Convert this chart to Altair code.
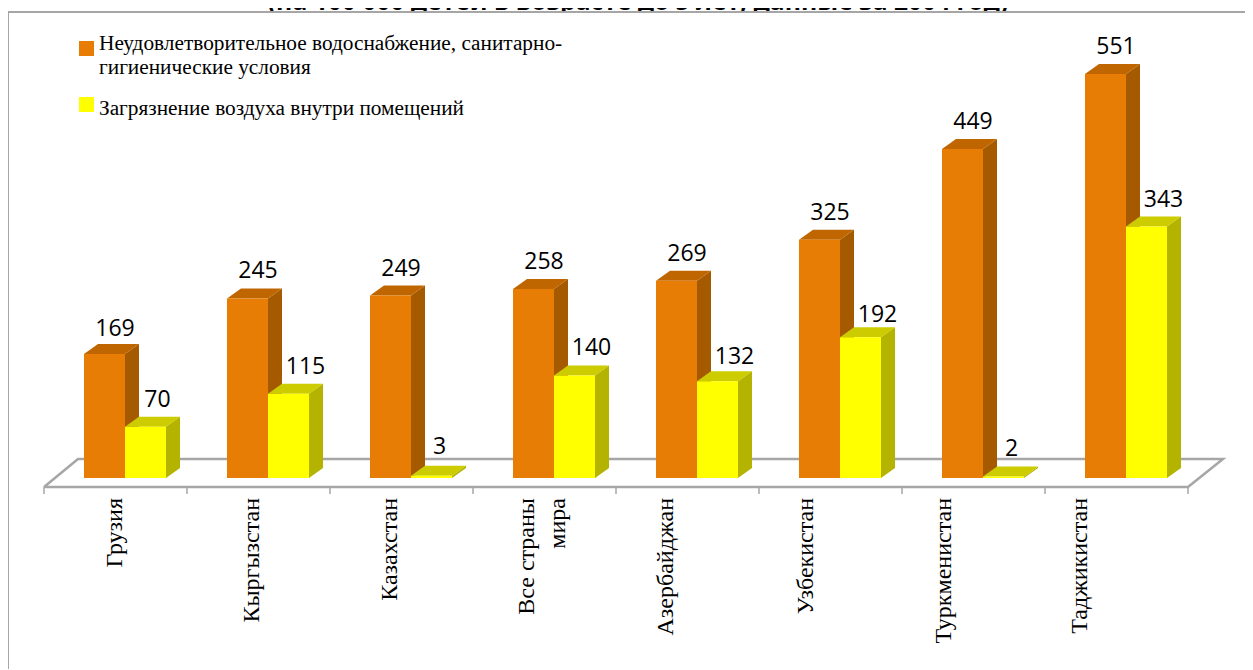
import altair as alt
import pandas as pd

categories = ["Грузия", "Кыргызстан", "Казахстан", "Все страны", "Азербайджан", "Узбекистан", "Туркменистан", "Таджикистан"]
water = [169, 245, 249, 258, 269, 325, 449, 551]
air = [70, 115, 3, 140, 132, 192, 2, 343]
label_pos = [-0.07, 0.89, 1.85, 2.81, 3.785, 4.76, 5.73, 6.68]
extra_label = "мира"
extra_pos = 3.028
water_name = ["Неудовлетворительное водоснабжение, санитарно-", "гигиенические условия"]
air_name = "Загрязнение воздуха внутри помещений"
title_text = "(на 100 000 детей в возрасте до 5 лет, данные за 2004 год)"
# offsets of the value labels, in pixels above the bar tops
water_gap = [25, 27, 26, 27, 27, 27, 27, 27]
air_gap = [27, 27, 29, 27, 24, 22, 28, 27]

W, H = 1237, 661
PXU = 143.0          # px per category
PXV = 0.733          # px per value unit
X0, Y0 = 117.0, 470.0
BAR = 41 / PXU
DX = 14 / PXU
DY = 10 / PXV
GRAY = "#A6A6A6"
FRAME_Y = 4

xs = alt.Scale(domain=[-X0 / PXU, (W - X0) / PXU], nice=False, zero=False)
ys = alt.Scale(domain=[-(H - Y0) / PXV, Y0 / PXV], nice=False, zero=False)
X = lambda f="x": alt.X(f"{f}:Q", scale=xs, axis=None)
Y = lambda f="y": alt.Y(f"{f}:Q", scale=ys, axis=None)


def faces(values, left):
    side, top, front = [], [], []
    for i, v in enumerate(values):
        x0 = i + left
        x1 = x0 + BAR
        side += [dict(id=i, x=x1, y=v, y2=0), dict(id=i, x=x1 + DX, y=v + DY, y2=DY)]
        top += [dict(id=i, x=x0, y=v, y2=v), dict(id=i, x=x0 + DX, y=v + DY, y2=v),
                dict(id=i, x=x1, y=v + DY, y2=v), dict(id=i, x=x1 + DX, y=v + DY, y2=v + DY)]
        front.append(dict(x=x0, x2=x1, y=v, y2=0))
    return pd.DataFrame(side), pd.DataFrame(top), pd.DataFrame(front)


def bars(values, left, cf, ct, cs):
    side, top, front = faces(values, left)
    return [
        alt.Chart(side).mark_area(color=cs, opacity=1).encode(x=X(), y=Y(), y2="y2:Q", detail="id:N"),
        alt.Chart(top).mark_area(color=ct, opacity=1).encode(x=X(), y=Y(), y2="y2:Q", detail="id:N"),
        alt.Chart(front).mark_rect(color=cf).encode(x=X(), x2="x2:Q", y=Y(), y2="y2:Q"),
    ]


# floor and axis
FL, BL = -81 / PXU, -47 / PXU
FR, BR = 7 + 62 / PXU, 7 + 97 / PXU
YF, YB = -9 / PXV, 19 / PXV
floor = pd.DataFrame([
    dict(x=FL, y=YF, o=0), dict(x=BL, y=YB, o=1), dict(x=BR, y=YB, o=2), dict(x=FR, y=YF, o=3), dict(x=FL, y=YF, o=4)
])
floor_l = alt.Chart(floor).mark_line(color=GRAY, strokeWidth=2.5).encode(x=X(), y=Y(), order="o:Q")
ticks = pd.DataFrame([dict(x=FL + k, y=YF, y2=YF - 7 / PXV) for k in range(9)])
ticks_l = alt.Chart(ticks).mark_rule(color=GRAY, strokeWidth=1.5).encode(x=X(), y=Y(), y2="y2:Q")

# value labels
vl = pd.DataFrame(
    [dict(x=i - BAR / 2 + 10.5 / PXU, y=v + g / PXV, t=str(v)) for i, (v, g) in enumerate(zip(water, water_gap))]
    + [dict(x=i + BAR / 2 + (17 if v >= 100 else 12 if v >= 10 else 8) / PXU, y=v + g / PXV, t=str(v))
       for i, (v, g) in enumerate(zip(air, air_gap))]
)
vl_l = alt.Chart(vl).mark_text(font="Open Sans", fontSize=23, color="#000", baseline="middle").encode(x=X(), y=Y(), text="t:N")

# category labels
cl = pd.DataFrame([dict(x=p, t=t) for p, t in zip(label_pos, categories)] + [dict(x=extra_pos, t=extra_label)])
cl["y"] = -20 / PXV
cl_l = alt.Chart(cl).mark_text(font="Liberation Serif", fontSize=24, color="#000", angle=270, align="right", baseline="middle").encode(x=X(), y=Y(), text="t:N")

# legend
leg_sw = pd.DataFrame([dict(c="#E87D05", px=78.5, py=40.5), dict(c="#FFFF00", px=78.5, py=96.5)])
leg_sq = alt.Chart(leg_sw).mark_square(size=225, opacity=1).encode(
    x=alt.X("px:Q", scale=None), y=alt.Y("py:Q", scale=None), color=alt.Color("c:N", scale=None))
leg_tx = pd.DataFrame([dict(t=water_name[0], py=35.6), dict(t=water_name[1], py=59.6), dict(t=air_name, py=100.6)])
leg_t = alt.Chart(leg_tx).mark_text(font="Liberation Serif", fontSize=21.3, color="#000", align="left", baseline="middle").encode(
    x=alt.value(91), y=alt.Y("py:Q", scale=None), text="t:N")

# clipped title, white chart area over its descenders, frame
one = pd.DataFrame({"a": [0]})
title_l = alt.Chart(pd.DataFrame({"t": [title_text]})).mark_text(
    font="Open Sans", fontWeight="bold", fontSize=24.6, color="#000", align="center", baseline="alphabetic"
).encode(x=alt.value(630), y=alt.value(2), text="t:N")
panel = alt.Chart(one).mark_rect(color="white").encode(x=alt.value(0), x2=alt.value(W), y=alt.value(FRAME_Y), y2=alt.value(H))
frame_t = alt.Chart(one).mark_rule(color=GRAY, strokeWidth=2).encode(x=alt.value(0), x2=alt.value(W), y=alt.value(FRAME_Y))
frame_l = alt.Chart(one).mark_rule(color=GRAY, strokeWidth=2).encode(x=alt.value(0), y=alt.value(FRAME_Y), y2=alt.value(H))

layers = [title_l, panel, frame_t, frame_l, floor_l, ticks_l]
layers += bars(water, -BAR, "#E87D05", "#BF6600", "#A65A00")
layers += bars(air, 0, "#FFFF00", "#CCCC00", "#B3B300")
layers += [vl_l, cl_l, leg_sq, leg_t]

chart = alt.layer(*layers).properties(
    width=W, height=H, padding=0, autosize=alt.AutoSizeParams(type="none"), background="white"
).configure_view(stroke=None)

chart.save("out.html", embed_options={"renderer": "svg", "actions": False})
